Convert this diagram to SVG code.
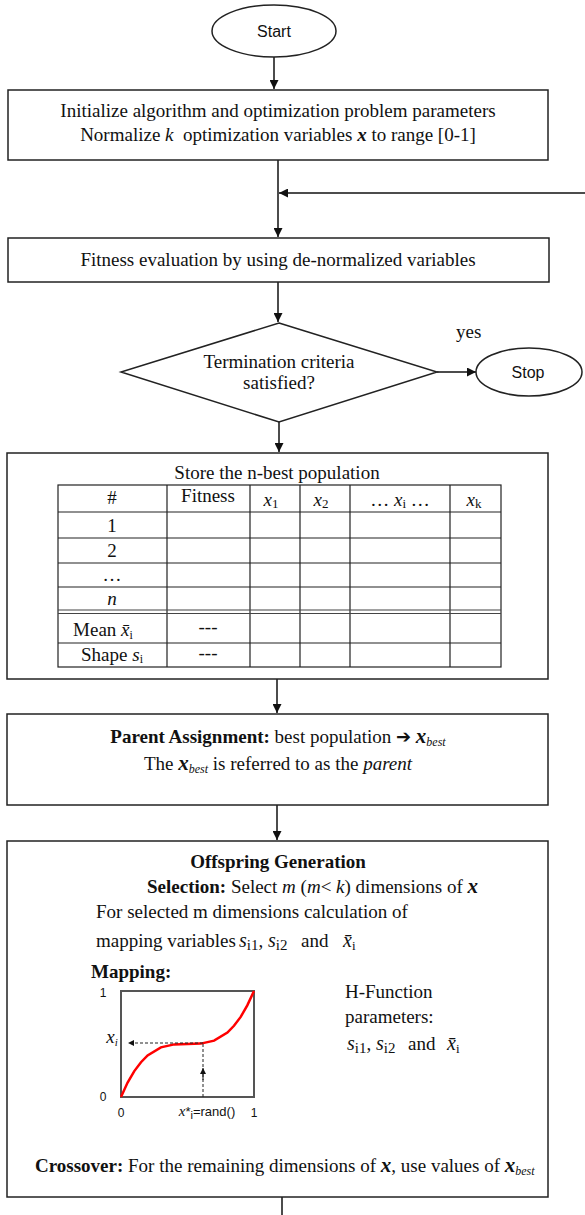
<svg xmlns="http://www.w3.org/2000/svg" width="585" height="1215" viewBox="0 0 585 1215">
<defs>
<style>
.box{fill:#fff;stroke:#222;stroke-width:1.5}
.t{font-family:"Liberation Serif","Times New Roman",serif;font-size:19px;fill:#111}
.c{text-anchor:middle}
.b{font-weight:bold}
.i{font-style:italic}
.bi{font-weight:bold;font-style:italic}
.sans{font-family:"Liberation Sans",Arial,sans-serif;fill:#111}
.conn{stroke:#111;stroke-width:1.5;fill:none}
.grid{stroke:#222;stroke-width:1.2;fill:none}
.dash{stroke:#222;stroke-width:1;fill:none;stroke-dasharray:3 2}
</style>
<marker id="ah" viewBox="0 0 10 10" refX="10" refY="5" markerWidth="10" markerHeight="9" markerUnits="userSpaceOnUse" orient="auto">
<path d="M0,0 L10,5 L0,10 z" fill="#111"/>
</marker>
<marker id="sah" viewBox="0 0 10 10" refX="10" refY="5" markerWidth="7" markerHeight="6" markerUnits="userSpaceOnUse" orient="auto">
<path d="M0,0 L10,5 L0,10 z" fill="#111"/>
</marker>
</defs>
<rect width="585" height="1215" fill="#fff"/>

<g id="connectors">
<line class="conn" x1="274" y1="57" x2="274" y2="89" marker-end="url(#ah)"/>
<line class="conn" x1="278" y1="160" x2="278" y2="237" marker-end="url(#ah)"/>
<line class="conn" x1="585" y1="193" x2="279" y2="193" marker-end="url(#ah)"/>
<line class="conn" x1="278" y1="282" x2="278" y2="322" marker-end="url(#ah)"/>
<line class="conn" x1="437" y1="372" x2="476" y2="372" marker-end="url(#ah)"/>
<line class="conn" x1="279" y1="422" x2="279" y2="452" marker-end="url(#ah)"/>
<line class="conn" x1="277" y1="679" x2="277" y2="713" marker-end="url(#ah)"/>
<line class="conn" x1="277" y1="805" x2="277" y2="840" marker-end="url(#ah)"/>
<line class="conn" x1="282" y1="1197" x2="282" y2="1215"/>
</g>

<g id="start">
<ellipse cx="274" cy="31" rx="62" ry="26" class="box"/>
<text x="274" y="37" class="sans c" font-size="16">Start</text>
</g>

<g id="init">
<rect x="8" y="90" width="540" height="70" class="box"/>
<text x="278" y="117" class="t c">Initialize algorithm and optimization problem parameters</text>
<text x="278" y="141" class="t c">Normalize <tspan class="i">k</tspan> &#160;optimization variables <tspan class="bi">x</tspan> to range [0-1]</text>
</g>

<g id="fitness">
<rect x="8" y="238" width="541" height="44" class="box"/>
<text x="278" y="266" class="t c" font-size="19.4">Fitness evaluation by using de-normalized variables</text>
</g>

<g id="termination">
<polygon points="279,323 437,372 279,422 121,372" class="box"/>
<text x="279" y="368" class="t c">Termination criteria</text>
<text x="279" y="389" class="t c">satisfied?</text>
<text x="456" y="338" class="t">yes</text>
</g>

<g id="stop">
<ellipse cx="529" cy="372" rx="53" ry="24" class="box"/>
<text x="528" y="378" class="sans c" font-size="16">Stop</text>
</g>

<g id="store">
<rect x="7" y="453" width="541" height="226" class="box"/>
<text x="277" y="479" class="t c">Store the n-best population</text>
<rect x="58" y="485" width="443" height="182" class="grid"/>
<path class="grid" d="M58,512 H501 M58,538 H501 M58,563 H501 M58,587 H501 M58,643 H501 M167,485 V667 M250,485 V667 M300,485 V667 M350,485 V667 M450,485 V667"/>
<path d="M58,610 H501 M58,613.5 H501" stroke="#444" stroke-width="1.2" fill="none"/>
<g class="t" font-size="18">
<text x="112" y="504" class="c">#</text>
<text x="208" y="502" class="c">Fitness</text>
<text x="271" y="506" class="c"><tspan class="i">x</tspan><tspan font-size="13" dy="2">1</tspan></text>
<text x="321" y="506" class="c"><tspan class="i">x</tspan><tspan font-size="13" dy="2">2</tspan></text>
<text x="400" y="506" class="c">… <tspan class="i">x</tspan><tspan font-size="13" dy="2">i</tspan><tspan dy="-2"> …</tspan></text>
<text x="474" y="506" class="c"><tspan class="i">x</tspan><tspan font-size="13" dy="2">k</tspan></text>
<text x="112" y="532" class="c">1</text>
<text x="112" y="557" class="c">2</text>
<text x="112" y="581" class="c">…</text>
<text x="112" y="605" class="c i">n</text>
<text x="103" y="636" class="c">Mean <tspan class="i">x̄</tspan><tspan font-size="12" dy="3">i</tspan></text>
<text x="208" y="633" class="c">---</text>
<text x="112" y="661" class="c">Shape <tspan class="i">s</tspan><tspan font-size="12" dy="2">i</tspan></text>
<text x="208" y="659" class="c">---</text>
</g>
</g>

<g id="parent">
<rect x="7" y="714" width="541" height="91" class="box"/>
<text x="278" y="743" class="t c"><tspan class="b">Parent Assignment:</tspan> best population <tspan font-family="DejaVu Sans, sans-serif" font-size="18" font-weight="bold">➔</tspan> <tspan class="bi" font-size="21">x</tspan><tspan class="i" font-size="12" dy="3">best</tspan></text>
<text x="278" y="770" class="t c">The <tspan class="bi" font-size="21">x</tspan><tspan class="i" font-size="12" dy="3">best</tspan><tspan dy="-3"> is referred to as the </tspan><tspan class="i">parent</tspan></text>
</g>

<g id="offspring">
<rect x="7" y="841" width="541" height="356" class="box"/>
<text x="278" y="868" class="t c b">Offspring Generation</text>
<text x="147" y="893" class="t"><tspan class="b">Selection:</tspan> Select <tspan class="i">m</tspan> (<tspan class="i">m</tspan>&lt; <tspan class="i">k</tspan>) dimensions of <tspan class="bi" font-size="21">x</tspan></text>
<text x="96" y="918" class="t">For selected m dimensions calculation of</text>
<text x="96" y="947" class="t">mapping variables</text>
<text x="239" y="947" class="t"><tspan class="i" font-size="20">s</tspan><tspan font-size="15" dy="3">i1</tspan><tspan dy="-3">, </tspan><tspan class="i" font-size="20">s</tspan><tspan font-size="15" dy="3">i2</tspan></text>
<text x="301" y="947" class="t">and</text>
<text x="343" y="947" class="t"><tspan class="i" font-size="20">x̄</tspan><tspan font-size="13" dy="3">i</tspan></text>
<text x="91" y="978" class="t b">Mapping:</text>

<g id="plot">
<rect x="121" y="991" width="133" height="106" fill="none" stroke="#555" stroke-width="2"/>
<polyline fill="none" stroke="#f00" stroke-width="2.5" points="121,1097 127.6,1082.6 134.3,1071.1 141,1062.2 147.6,1055.4 160.9,1047.4 174.2,1044.4 187.5,1044 200.8,1043.6 214.1,1040.6 227.4,1032.6 234,1025.8 240.7,1016.9 247.3,1005.4 254,991"/>
<line class="dash" x1="203" y1="1043" x2="128" y2="1043" marker-end="url(#sah)"/>
<line class="dash" x1="203" y1="1097" x2="203" y2="1043"/>
<line x1="203" y1="1080" x2="203" y2="1068" stroke="#111" stroke-width="1" marker-end="url(#sah)"/>
<text x="103" y="997" class="sans c" font-size="12">1</text>
<text x="103" y="1101" class="sans c" font-size="12">0</text>
<text x="121" y="1117" class="sans c" font-size="12">0</text>
<text x="254" y="1117" class="sans c" font-size="12">1</text>
<text x="112" y="1043" class="t c i" font-size="16">x<tspan font-size="11" dy="3">i</tspan></text>
<text x="207" y="1116" class="sans c" font-size="13"><tspan font-family="Liberation Serif, serif" font-style="italic" font-size="15">x</tspan>*<tspan font-size="11" dy="3">i</tspan><tspan dy="-3">=rand()</tspan></text>
</g>

<text x="345" y="998" class="t">H-Function</text>
<text x="345" y="1023" class="t">parameters:</text>
<text x="347" y="1050" class="t"><tspan class="i" font-size="20">s</tspan><tspan font-size="15" dy="3">i1</tspan><tspan dy="-3">, </tspan><tspan class="i" font-size="20">s</tspan><tspan font-size="15" dy="3">i2</tspan></text>
<text x="408" y="1050" class="t">and</text>
<text x="447" y="1050" class="t"><tspan class="i" font-size="20">x̄</tspan><tspan font-size="13" dy="3">i</tspan></text>

<text x="35" y="1172" class="t"><tspan class="b">Crossover:</tspan> For the remaining dimensions of <tspan class="bi" font-size="21">x</tspan>, use values of <tspan class="bi" font-size="21">x</tspan><tspan class="i" font-size="12" dy="3">best</tspan></text>
</g>
</svg>
